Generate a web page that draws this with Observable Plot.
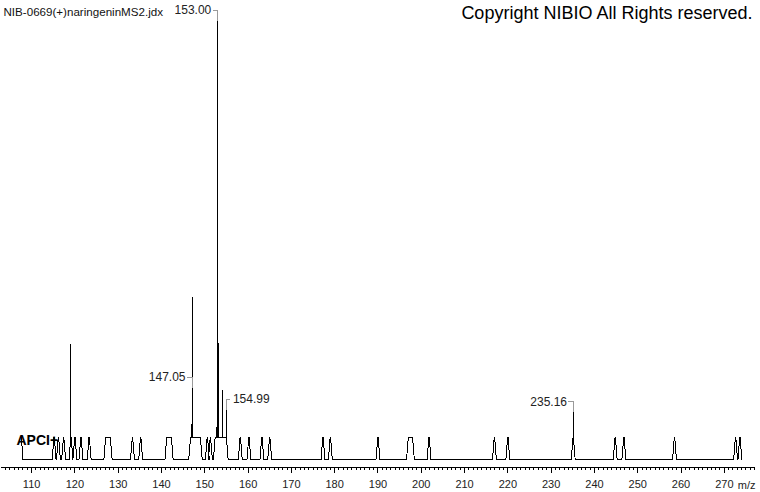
<!DOCTYPE html>
<html>
<head>
<meta charset="utf-8">
<script src="https://cdn.jsdelivr.net/npm/d3@7"></script>
<script src="https://cdn.jsdelivr.net/npm/@observablehq/plot@0.6"></script>
<style>
  html, body { margin: 0; padding: 0; background: #fff; }
  #chart svg { display: block; }
</style>
</head>
<body>
<div id="chart"></div>
<script>
// ---- data ----
// noise features of the profile trace (centre m/z, flat-top width in m/z)
const noiseMz    = [115.2, 116.2, 117.4, 119.1, 120.0, 121.4, 123.3, 127.65, 133.3, 135.2, 141.75,
                    147.85, 150.6, 151.3, 153.7, 158.2, 160.2, 163.2, 165.0, 177.3, 179.0, 190.0,
                    197.5, 201.8, 216.9, 220.0, 235.1, 244.8, 246.8, 258.5, 272.6, 273.6];
const noiseWidth = [0.1, 0.1, 0.1, 0.1, 0.1, 0.1, 0.1, 1.1, 0.1, 0.1, 1.1,
                    2.3, 0.1, 0.1, 2.6, 0.1, 0.1, 0.1, 0.1, 0.1, 0.1, 0.1,
                    1.0, 0.1, 0.1, 0.1, 0.1, 0.1, 0.1, 0.1, 0.1, 0.1];
const noiseLevel = 5.0;
const traceStart = [[107.55, 5.0], [107.65, 5.0], [108.0, 0]];

// peaks (sticks) rising from the trace
const spikeMz   = [119.1, 146.9, 147.05, 152.75, 153.00, 153.18, 154.15, 154.99, 235.16];
const spikeBase = [5, 5, 5, 5, 5, 5, 5, 5, 5];
const spikeInt  = [26.3, 8.0, 37.0, 7.3, 100, 26.5, 15.8, 11.2, 10.7];

// annotated peaks (side: -1 label on the left, +1 on the right)
const labelMz   = [147.05, 153.00, 154.99, 235.16];
const labelText = ["147.05", "153.00", "154.99", "235.16"];
const labelAt   = [16.2, 100, 11.2, 10.7];
const labelSide = [-1, -1, 1, -1];

// axis
const majorTicks = [110, 120, 130, 140, 150, 160, 170, 180, 190, 200, 210, 220, 230, 240, 250, 260, 270];
const minorTicks = d3.range(104, 278, 1);
const xDomain = [103.05, 277.2];

const titleText = "NIB-0669(+)naringeninMS2.jdx";
const copyrightText = "Copyright NIBIO All Rights reserved.";
const ionText = "APCI+";
const unitText = "m/z";

// ---- build the trace table from the features ----
const ramp = 0.4;
const trace = traceStart.map(([mz, v]) => ({mz, v}));
noiseMz.forEach((c, i) => {
  const lo = c - noiseWidth[i] / 2, hi = c + noiseWidth[i] / 2;
  trace.push({mz: lo - ramp, v: 0}, {mz: lo, v: noiseLevel}, {mz: hi, v: noiseLevel}, {mz: hi + ramp, v: 0});
});
const spikes = spikeMz.map((mz, i) => ({mz, base: spikeBase[i], v: spikeInt[i]}));
const lead = 2.5; // leader length in intensity units
const labels = labelMz.map((mz, i) => ({mz, text: labelText[i], at: labelAt[i], top: labelAt[i] + lead, side: labelSide[i]}));
const leftLabels = labels.filter(d => d.side < 0);
const rightLabels = labels.filter(d => d.side > 0);

const font = "Liberation Sans, Arial, Helvetica, sans-serif";

const chart = Plot.plot({
  width: 760,
  height: 492,
  marginLeft: 1,
  marginRight: 5,
  marginTop: 0,
  marginBottom: 25,
  style: {fontFamily: font, fontSize: "11px", color: "#000", background: "#fff", shapeRendering: "crispEdges"},
  x: {domain: xDomain},
  y: {domain: [0, 100], range: [459, 21], axis: null},
  marks: [
    Plot.ruleY([0], {dy: 8, stroke: "#000"}),
    Plot.axisX({ticks: minorTicks, tickSize: 3, tickFormat: () => "", label: null, stroke: "#000"}),
    Plot.axisX({ticks: majorTicks, tickSize: 6, tickPadding: 7, label: null, fontSize: 11, fill: "#222", stroke: "#000"}),
    Plot.line(trace, {x: "mz", y: "v", stroke: "#000", strokeWidth: 1}),
    Plot.ruleX(spikes, {x: "mz", y1: "base", y2: "v", stroke: "#000", strokeWidth: 1}),
    Plot.ruleX(labels, {x: "mz", y1: "at", y2: "top", stroke: "#9a9a9a", strokeWidth: 1}),
    Plot.ruleY(labels, {x1: d => d.mz + d.side * 1.05, x2: "mz", y: "top", stroke: "#9a9a9a", strokeWidth: 1}),
    Plot.text(leftLabels, {x: "mz", y: "top", text: "text", dx: -6.5, textAnchor: "end", lineAnchor: "middle", fontSize: 12, fill: "#222"}),
    Plot.text(rightLabels, {x: "mz", y: "top", text: "text", dx: 6.5, textAnchor: "start", lineAnchor: "middle", fontSize: 12, fill: "#222"}),
    Plot.text([titleText], {frameAnchor: "top-left", dx: 2, dy: 11.5, textAnchor: "start", lineAnchor: "middle", fontSize: 11.6, fill: "#111"}),
    Plot.text([copyrightText], {frameAnchor: "top-right", dx: -3, dy: 13, textAnchor: "end", lineAnchor: "middle", fontSize: 18, fill: "#000"}),
    Plot.text([ionText], {frameAnchor: "bottom-left", dx: 15, dy: -27, textAnchor: "start", lineAnchor: "middle", fontSize: 14, fontWeight: "bold", fill: "#000"}),
    Plot.text([unitText], {frameAnchor: "bottom-right", dx: 0, dy: 18, textAnchor: "end", lineAnchor: "middle", fontSize: 11, fill: "#222"})
  ]
});
document.getElementById("chart").appendChild(chart);
</script>
</body>
</html>
